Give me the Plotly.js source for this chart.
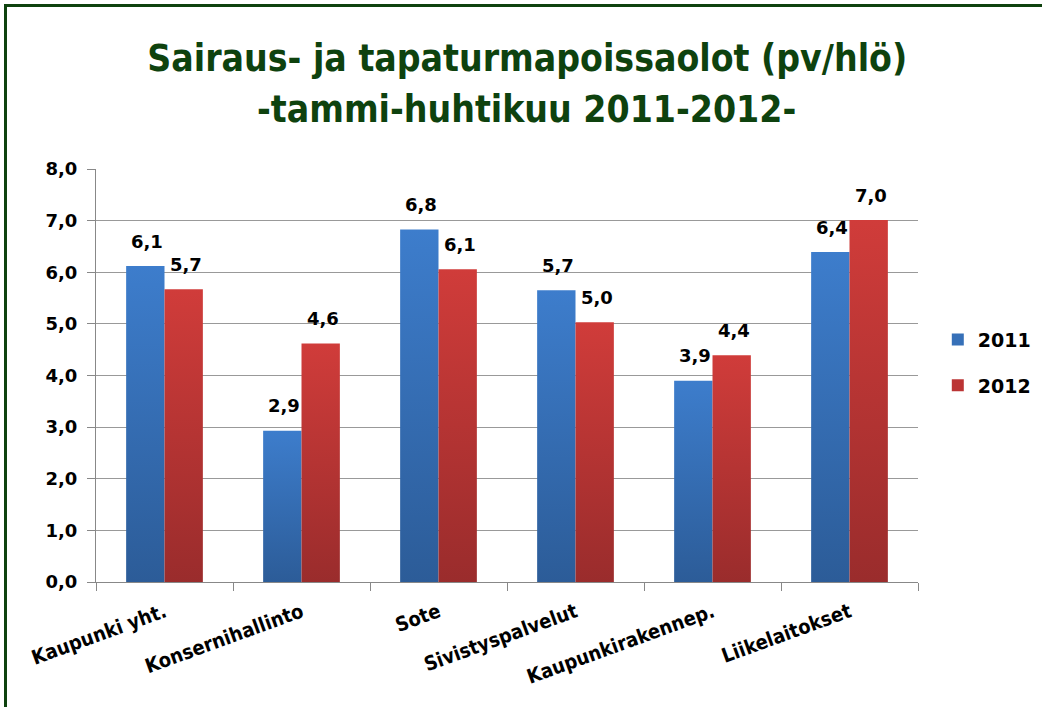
<!DOCTYPE html>
<html>
<head>
<meta charset="utf-8">
<script src="https://cdn.plot.ly/plotly-3.0.1.min.js"></script>
<style>
html,body{margin:0;padding:0;background:#fff;overflow:hidden;}
#frame{position:absolute;left:4px;top:4px;width:1100px;height:800px;border-top:3px solid #0e420e;border-left:3px solid #0e420e;pointer-events:none;z-index:5;}
#chart{position:absolute;left:0;top:0;width:1042px;height:707px;}
</style>
</head>
<body>
<div id="chart"></div>
<div id="frame"></div>
<script>
const categories = ["Kaupunki yht.", "Konsernihallinto", "Sote", "Sivistyspalvelut", "Kaupunkirakennep.", "Liikelaitokset"];
const values2011 = [6.12, 2.93, 6.83, 5.65, 3.90, 6.39];
const values2012 = [5.67, 4.62, 6.06, 5.03, 4.39, 7.01];
const seriesNames = ["2011", "2012"];
const titleLines = ["Sairaus- ja tapaturmapoissaolot (pv/hlö)", "-tammi-huhtikuu 2011-2012-"];
const yTicks = [0, 1, 2, 3, 4, 5, 6, 7, 8];

const BARGAP = 0.44;
const labelFont = {family: "DejaVu Sans, Verdana, sans-serif", size: 18, color: "#000", weight: "bold"};
const titleFont = {family: "Liberation Sans Narrow, DejaVu Sans Condensed, sans-serif", size: 37, color: "#0e420e", weight: "bold"};

const traces = [
  {type: "bar", name: seriesNames[0], legendgroup: "a", x: categories, y: values2011,
   marker: {color: "#3670b8"}, hoverinfo: "none"},
  {type: "bar", name: seriesNames[1], legendgroup: "b", x: categories, y: values2012,
   marker: {color: "#bb3434"}, hoverinfo: "none"}
];

// value labels above bars, placed from the data through the axes
const barW = (1 - BARGAP) / 2;
const annotations = [];
[values2011, values2012].forEach(function(vals, s){
  vals.forEach(function(v, i){
    annotations.push({
      x: i + (s === 0 ? -barW / 2 : barW / 2), y: v, xref: "x", yref: "y",
      text: v.toFixed(1).replace(".", ","), showarrow: false,
      xanchor: "center", yanchor: "middle", yshift: 25, xshift: 2,
      font: labelFont
    });
  });
});
annotations.push({
  text: titleLines[1], xref: "paper", yref: "paper", x: 0.524, y: 1.143,
  xanchor: "center", yanchor: "middle", showarrow: false, font: titleFont
});

const layout = {
  width: 1042, height: 707,
  paper_bgcolor: "#fff", plot_bgcolor: "#fff",
  separators: ",.",
  margin: {l: 96, r: 124, t: 169, b: 125, autoexpand: false},
  title: {
    text: titleLines[0],
    font: titleFont,
    x: 0.506, xanchor: "center", xref: "container",
    y: 0.918, yanchor: "middle", yref: "container"
  },
  annotations: annotations,
  barmode: "group",
  bargap: BARGAP,
  bargroupgap: 0,
  showlegend: true,
  legend: {
    xref: "container", yref: "container",
    x: 0.9, xanchor: "left", y: 0.487, yanchor: "middle",
    font: {family: "DejaVu Sans, Verdana, sans-serif", size: 19, color: "#000", weight: "bold"},
    tracegroupgap: 18, itemwidth: 30
  },
  xaxis: {
    type: "category",
    tickangle: -20,
    ticks: "outside", tickson: "boundaries", ticklen: 8, tickcolor: "#888",
    showline: true, linecolor: "#888", linewidth: 1,
    showgrid: false,
    ticklabelstandoff: 10,
    automargin: false,
    tickfont: {family: "Liberation Sans Narrow, DejaVu Sans Condensed, sans-serif", size: 20, color: "#000", weight: "bold"},
    fixedrange: true
  },
  yaxis: {
    range: [0, 8],
    tickvals: yTicks,
    tickformat: ".1f",
    ticks: "outside", ticklen: 8, tickcolor: "#888",
    showline: true, linecolor: "#888", linewidth: 1,
    showgrid: true, gridcolor: "#999", gridwidth: 1,
    zeroline: false,
    automargin: false,
    tickfont: {family: "DejaVu Sans, Verdana, sans-serif", size: 18, color: "#000", weight: "bold"},
    ticklabelstandoff: 6,
    fixedrange: true
  }
};

Plotly.newPlot("chart", traces, layout, {staticPlot: true, displayModeBar: false}).then(function(gd){
  const svg = gd.querySelector("svg.main-svg");
  const ns = "http://www.w3.org/2000/svg";
  let defs = svg.querySelector("defs");
  if (!defs) { defs = document.createElementNS(ns, "defs"); svg.insertBefore(defs, svg.firstChild); }
  const grads = [["gBlue", "#3d7dcc", "#2c5c98"], ["gRed", "#d03c3a", "#9a2c2c"]];
  grads.forEach(function(g){
    const lg = document.createElementNS(ns, "linearGradient");
    lg.setAttribute("id", g[0]); lg.setAttribute("x1", "0"); lg.setAttribute("y1", "0");
    lg.setAttribute("x2", "0"); lg.setAttribute("y2", "1");
    lg.setAttribute("gradientUnits", "objectBoundingBox");
    [[0, g[1]], [1, g[2]]].forEach(function(s){
      const st = document.createElementNS(ns, "stop");
      st.setAttribute("offset", s[0]); st.setAttribute("stop-color", s[1]);
      lg.appendChild(st);
    });
    defs.appendChild(lg);
  });
  const barTraces = gd.querySelectorAll(".barlayer .trace.bars");
  barTraces.forEach(function(t, i){
    t.querySelectorAll("path").forEach(function(p){
      p.style.fill = "url(#" + grads[i][0] + ")";
    });
  });
});
</script>
</body>
</html>
